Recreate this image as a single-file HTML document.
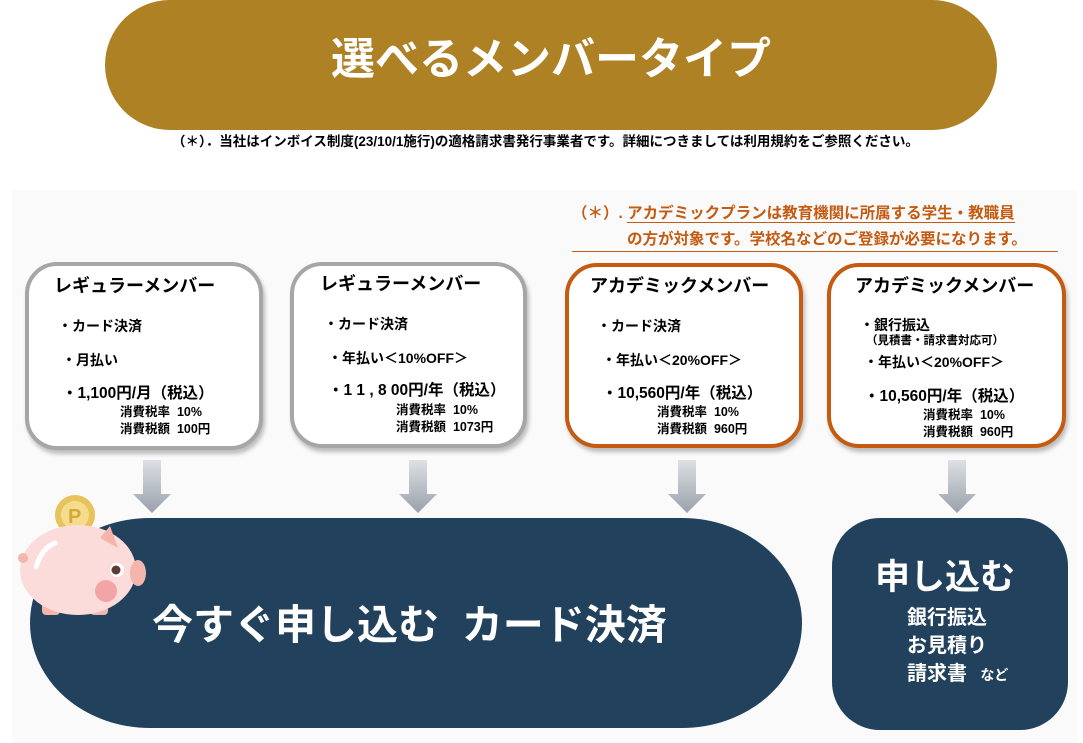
<!DOCTYPE html>
<html><head><meta charset="utf-8"><style>
body{margin:0;width:1083px;height:743px;background:#fff;position:relative;overflow:hidden;font-family:"Liberation Sans","Noto Sans CJK JP",sans-serif;font-weight:bold;}
div{position:absolute;box-sizing:border-box;}
.t{white-space:nowrap;color:#000;line-height:20px;}
.card{background:#fff;border-radius:32px;border:4px solid #a6a6a6;box-shadow:2px 4px 4px rgba(0,0,0,.25);}
.or{border-color:#c55a11;}
.h{font-size:18px;line-height:24px;}
.i{font-size:14px;}
.p{font-size:15.5px;}
.x{font-size:12.5px;line-height:17px;}
</style></head><body>
<div style="left:105px;top:0;width:892px;height:130px;background:#ad8124;border-radius:65px;"></div>
<div class="t" style="left:105px;top:30px;width:892px;text-align:center;color:#fff;font-size:44px;line-height:60px;">選べるメンバータイプ</div>
<div class="t" style="left:172px;top:132px;font-size:13.5px;line-height:20px;">（＊）．当社はインボイス制度(23/10/1施行)の適格請求書発行事業者です。詳細につきましては利用規約をご参照ください。</div>
<div style="left:12px;top:190px;width:1066px;height:553px;background:#fafafa;"></div>
<div class="t" style="left:572px;top:202px;color:#c55a11;font-size:15.5px;line-height:24px;">（＊）. <span style="border-bottom:1px solid #c55a11">アカデミックプランは教育機関に所属する学生・教職員</span></div>
<div class="t" style="left:572px;top:229px;width:486px;color:#c55a11;font-size:15.5px;line-height:22px;border-bottom:1.5px solid #c55a11;padding-left:55px;">の方が対象です。学校名などのご登録が必要になります。</div>

<div class="card" style="left:25px;top:262px;width:238px;height:188px;"></div>
<div class="t h" style="left:54px;top:274px;">レギュラーメンバー</div>
<div class="t i" style="left:58px;top:316px;">・カード決済</div>
<div class="t i" style="left:62px;top:350px;">・月払い</div>
<div class="t p" style="left:62px;top:384px;">・1,100円/月（税込）</div>
<div class="t x" style="left:120px;top:404px;">消費税率&nbsp; 10%<br>消費税額&nbsp; 100円</div>

<div class="card" style="left:290px;top:262px;width:237px;height:186px;"></div>
<div class="t h" style="left:320px;top:272px;">レギュラーメンバー</div>
<div class="t i" style="left:324px;top:314px;">・カード決済</div>
<div class="t i" style="left:328px;top:348px;">・年払い＜10%OFF＞</div>
<div class="t p" style="left:328px;top:381px;">・1 1 , 8 00円/年（税込）</div>
<div class="t x" style="left:396px;top:402px;">消費税率&nbsp; 10%<br>消費税額&nbsp; 1073円</div>

<div class="card or" style="left:565px;top:263px;width:238px;height:185px;"></div>
<div class="t h" style="left:590px;top:274px;">アカデミックメンバー</div>
<div class="t i" style="left:597px;top:316px;">・カード決済</div>
<div class="t i" style="left:602px;top:350px;">・年払い＜20%OFF＞</div>
<div class="t p" style="left:602px;top:384px;">・10,560円/年（税込）</div>
<div class="t x" style="left:657px;top:404px;">消費税率&nbsp; 10%<br>消費税額&nbsp; 960円</div>

<div class="card or" style="left:827px;top:263px;width:239px;height:185px;"></div>
<div class="t h" style="left:855px;top:274px;">アカデミックメンバー</div>
<div class="t i" style="left:860px;top:315px;">・銀行振込</div>
<div class="t" style="left:866px;top:333px;font-size:11.5px;line-height:16px;">（見積書・請求書対応可）</div>
<div class="t i" style="left:864px;top:352px;">・年払い＜20%OFF＞</div>
<div class="t p" style="left:864px;top:387px;">・10,560円/年（税込）</div>
<div class="t x" style="left:923px;top:407px;">消費税率&nbsp; 10%<br>消費税額&nbsp; 960円</div>

<svg style="position:absolute;left:0;top:0" width="1083" height="743">
<defs><linearGradient id="g" x1="0" y1="0" x2="0" y2="1"><stop offset="0" stop-color="#dde0e4"/><stop offset="1" stop-color="#9aa1ab"/></linearGradient></defs>
<g fill="url(#g)">
<polygon points="143,460 161,460 161,494 171,494 152,513 133,494 143,494"/>
<polygon points="409,460 427,460 427,494 437,494 418,513 399,494 409,494"/>
<polygon points="678,460 696,460 696,494 706,494 687,513 668,494 678,494"/>
<polygon points="948,460 966,460 966,494 976,494 957,513 938,494 948,494"/>
</g>
</svg>

<div style="left:30px;top:518px;width:772px;height:210px;background:#22415c;border-radius:120px/105px;"></div>
<div class="t" style="left:152px;top:598px;color:#fff;font-size:41px;line-height:54px;">今すぐ申し込む&nbsp; カード決済</div>

<div style="left:832px;top:518px;width:236px;height:212px;background:#22415c;border-radius:48px;"></div>
<div class="t" style="left:875px;top:555px;color:#fff;font-size:35px;line-height:46px;">申し込む</div>
<div class="t" style="left:907px;top:604px;color:#fff;font-size:20px;line-height:28px;">銀行振込<br>お見積り<br>請求書 <span style="font-size:14px;">&nbsp; など</span></div>

<svg style="position:absolute;left:0;top:470px" width="160" height="160">
<circle cx="75" cy="45" r="20" fill="#e8c25a"/><circle cx="75" cy="45" r="14" fill="#f5dc8c"/>
<text x="68" y="53" font-size="20" font-weight="bold" fill="#d4a935" font-family="Liberation Sans">P</text>
<rect x="55" y="61" width="40" height="4" fill="#c9a6a0"/>
<rect x="42" y="125" width="18" height="20" rx="4" fill="#f4b6ac"/>
<rect x="90" y="125" width="18" height="20" rx="4" fill="#f4b6ac"/>
<ellipse cx="78" cy="100" rx="58" ry="45" fill="#fbdcdb"/>
<polygon points="100,68 110,56 118,78" fill="#f4b6ac"/>
<ellipse cx="138" cy="103" rx="8" ry="13" fill="#f4b6ac"/>
<circle cx="23" cy="88" r="5" fill="#f4b6ac"/>
<circle cx="117" cy="100" r="7" fill="#fff"/><circle cx="116" cy="100" r="4.5" fill="#5a3e30"/>
<circle cx="106" cy="121" r="11" fill="#f2a4a6"/>
<path d="M36 97 Q42 78 55 73" stroke="#fff" stroke-width="5" fill="none" stroke-linecap="round"/>
</svg>
</body></html>
